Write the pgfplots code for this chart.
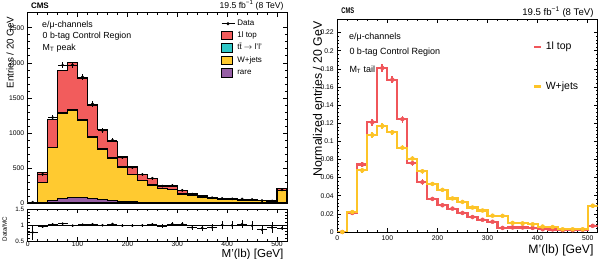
\documentclass[border=0pt]{standalone}
\usepackage{fontspec}
\setmainfont{Liberation Sans}
\usepackage{pgfplots}
\pgfplotsset{compat=1.18}
\usepackage{pgfplotstable}

\definecolor{topred}{RGB}{242,92,92}
\definecolor{wjyellow}{RGB}{255,202,48}
\definecolor{dilcyan}{RGB}{48,200,200}
\definecolor{rarepurple}{RGB}{150,95,165}
\definecolor{linered}{RGB}{240,86,90}
\definecolor{lineyellow}{RGB}{253,196,40}

% M'(lb) in the M_T peak region: stacked simulation and data (20 GeV bins, last bin holds overflow)
\pgfplotstableread{
lo   c    rare wjets dilep top  data derr ratio rerr
0    10   0.5  10.5  0.3   1.7  10   3    0.77  0.24
20   30   12   278   3     140  411  20   0.95  0.047
40   50   35   751   8     401  1219 35   1.02  0.029
60   70   60   1221  13    596  1966 44   1.04  0.023
80   90   75   1244  15    676  1970 44   0.98  0.022
100  110  72   1099  14    596  1799 42   1.01  0.024
120  130  60   878   11    436  1413 38   1.02  0.027
140  150  45   722   8     268  1033 32   0.99  0.031
160  170  32   606   6     227  897  30   1.03  0.034
180  190  22   486   5     149  649  25   0.98  0.038
200  210  16   391   4     104  505  22   0.98  0.044
220  230  12   307   3     90   408  20   0.99  0.049
240  250  9    248   3     86   353  19   1.02  0.054
260  270  7    202   2     37   241  16   0.97  0.063
280  290  6    189   2     46   250  16   1.03  0.065
300  310  5    124   2     45   181  13   1.03  0.076
320  330  4    105   1     28   127  11   0.92  0.082
340  350  3    78    1     18   91   10   0.91  0.095
360  370  3    59    1     18   75   9    0.92  0.107
380  390  2    46    1     15   64   8    1.00  0.125
400  410  2    43    1     14   59   8    0.99  0.128
420  430  2    38    1     14   57   8    1.03  0.137
440  450  2    33    1     14   49   7    0.98  0.140
460  470  1    29    1     9    34   6    0.85  0.146
480  490  1    21    1     9    29   5    0.92  0.168
500  510  5    171   2     31   188  14   0.90  0.066
520  530  5    171   2     31   188  14   0.90  0.066
}\peaktable

% M'(lb) in the M_T tail region: unit-normalised shapes
\pgfplotstableread{
lo   c    top     wjets   etop    ewj
0    10   0       0       0       0
20   30   0.021   0.022   0.002   0.002
40   50   0.0745  0.068   0.003   0.003
60   70   0.121   0.107   0.004   0.003
80   90   0.181   0.117   0.004   0.003
100  110  0.168   0.110   0.004   0.003
120  130  0.1245  0.093   0.004   0.003
140  150  0.076   0.081   0.003   0.003
160  170  0.055   0.067   0.003   0.003
180  190  0.0365  0.053   0.002   0.002
200  210  0.0295  0.0465  0.002   0.002
220  230  0.0258  0.037   0.002   0.002
240  250  0.021   0.0332  0.002   0.002
260  270  0.0165  0.027   0.0015  0.002
280  290  0.0135  0.0237  0.0015  0.002
300  310  0.0113  0.018   0.0015  0.0015
320  330  0.0045  0.0178  0.001   0.0015
340  350  0.005   0.010   0.001   0.001
360  370  0.005   0.0095  0.001   0.001
380  390  0.0045  0.0085  0.001   0.001
400  410  0.003   0.006   0.001   0.001
420  430  0.0028  0.0055  0.001   0.001
440  450  0.002   0.003   0.001   0.001
460  470  0.002   0.003   0.001   0.001
480  490  0.0025  0.003   0.001   0.001
500  510  0.0068  0.029   0.001   0.002
520  530  0.0068  0.029   0       0
}\tailtable

\pgfplotsset{
  rootframe/.style={
    scale only axis, anchor=south west,
    xmin=0, xmax=520,
    xtick={0,100,...,500}, minor x tick num=4, minor y tick num=4,
    tick align=inside, xtick pos=both, ytick pos=both,
    major tick length=4pt, minor tick length=2pt,
    axis line style={line width=0.6pt},
    every tick/.style={black, line width=0.5pt},
    tick label style={font=\fontsize{6.8}{7}\selectfont},
    /pgf/number format/assume math mode=true,
    /pgf/number format/1000 sep={},
  },
  boxlegend/.style={legend image code/.code={
      \draw[##1, draw=black, line width=0.5pt] (0pt,-4.3pt) rectangle (11pt,4.3pt);}},
  linelegend/.style={legend image code/.code={
      \draw[##1, line width=2.6pt] (0pt,0pt) -- (7pt,0pt);}},
}

\begin{document}
\begin{tikzpicture}
\useasboundingbox (0pt,0pt) rectangle (606pt,259pt);

% ---------- left: stacked M'(lb), M_T peak ----------
\begin{axis}[rootframe,
  at={(27.7pt,56pt)}, width=259.3pt, height=190.3pt,
  ymin=0, ymax=2714, ytick={0,500,...,2500}, xticklabels={},
  legend style={at={(0.734,0.972)}, anchor=north west, draw=none, fill=none,
    font=\fontsize{8}{8}\selectfont, row sep=3.4pt,
    nodes={inner sep=0pt, text height=5.5pt, text depth=1.5pt},
    /tikz/every odd column/.style={column sep=2.5pt}},
  legend cell align=left]
  \addplot[const plot mark left, fill=topred, draw=black, line width=1.1pt, forget plot]
    table[x=lo, y expr=\thisrow{rare}+\thisrow{wjets}+\thisrow{dilep}+\thisrow{top}] {\peaktable} \closedcycle;
  \addplot[const plot mark left, fill=dilcyan, draw=black, line width=1.1pt, forget plot]
    table[x=lo, y expr=\thisrow{rare}+\thisrow{wjets}+\thisrow{dilep}] {\peaktable} \closedcycle;
  \addplot[const plot mark left, fill=wjyellow, draw=black, line width=1.1pt, forget plot]
    table[x=lo, y expr=\thisrow{rare}+\thisrow{wjets}] {\peaktable} \closedcycle;
  \addplot[const plot mark left, fill=rarepurple, draw=black, line width=1.1pt, forget plot]
    table[x=lo, y=rare] {\peaktable} \closedcycle;
  \addplot[black, only marks, mark=*, mark size=1.2pt, forget plot,
    restrict x to domain=0:520,
    error bars/.cd, x dir=both, x fixed=10, y dir=both, y explicit,
    error mark=none, error bar style={line width=0.6pt}]
    table[x=c, y=data, y error=derr] {\peaktable};
  \addlegendimage{legend image code/.code={
      \draw[black, line width=0.6pt] (0pt,0pt) -- (13pt,0pt);
      \fill[black] (6.5pt,0pt) circle (1.3pt);}}
  \addlegendentry{Data}
  \addlegendimage{boxlegend, fill=topred}
  \addlegendentry{1l top}
  \addlegendimage{boxlegend, fill=dilcyan}
  \addlegendentry{t\={t} $\rightarrow$ l'l'}
  \addlegendimage{boxlegend, fill=wjyellow}
  \addlegendentry{W+jets}
  \addlegendimage{boxlegend, fill=rarepurple}
  \addlegendentry{rare}
\end{axis}

% ---------- left: data / simulation ratio ----------
\begin{axis}[rootframe,
  at={(27.7pt,18pt)}, width=259.3pt, height=32pt,
  ymin=0.5, ymax=1.5, ytick={0.5,1,1.5},
  xticklabel style={inner sep=0.8pt},
  yticklabel style={font=\fontsize{6.3}{7}\selectfont}]
  \addplot[black, line width=0.5pt] coordinates {(0,1) (520,1)};
  \addplot[black, only marks, mark=*, mark size=1.1pt,
    restrict x to domain=0:520,
    error bars/.cd, x dir=both, x fixed=10, y dir=both, y explicit,
    error mark=none, error bar style={line width=0.6pt}]
    table[x=c, y=ratio, y error=rerr] {\peaktable};
\end{axis}

% ---------- right: normalised shapes, M_T tail ----------
\begin{axis}[rootframe,
  at={(337.3pt,27pt)}, width=260.4pt, height=213pt,
  ymin=0, ymax=0.235, ytick={0,0.02,...,0.22},
  scaled y ticks=false,
  yticklabel style={/pgf/number format/fixed, /pgf/number format/precision=2},
  legend style={at={(0.740,0.901)}, anchor=north west, draw=none, fill=none,
    font=\fontsize{10.5}{10.5}\selectfont, row sep=29.5pt,
    nodes={inner sep=0pt, text height=7.6pt, text depth=2.2pt},
    /tikz/every odd column/.style={column sep=3pt}},
  legend cell align=left]
  \addplot[const plot mark left, linered, line width=2.1pt, forget plot]
    table[x=lo, y=top] {\tailtable};
  \addplot[linered, only marks, mark=none, forget plot, restrict x to domain=0:520,
    error bars/.cd, y dir=both, y explicit, error mark=none,
    error bar style={line width=1.8pt}]
    table[x=c, y=top, y error=etop] {\tailtable};
  \addplot[const plot mark left, lineyellow, line width=2.1pt, forget plot]
    table[x=lo, y=wjets] {\tailtable};
  \addplot[lineyellow, only marks, mark=none, forget plot, restrict x to domain=0:520,
    error bars/.cd, y dir=both, y explicit, error mark=none,
    error bar style={line width=1.8pt}]
    table[x=c, y=wjets, y error=ewj] {\tailtable};
  \addlegendimage{linelegend, linered}
  \addlegendentry{1l top}
  \addlegendimage{linelegend, lineyellow}
  \addlegendentry{W+jets}
\end{axis}

% ---------- titles, axis titles and region labels ----------
\node[anchor=west, font=\fontsize{8}{8}\selectfont\bfseries] at (27.5pt,253.7pt) {CMS};
\node[anchor=east, font=\fontsize{8.6}{9}\selectfont] at (287pt,253.7pt) {19.5 fb\textsuperscript{−1} (8 TeV)};
\node[anchor=west, font=\fontsize{8.2}{8}\selectfont\bfseries, xscale=0.7, transform shape] at (339pt,248pt) {CMS};
\node[anchor=east, font=\fontsize{9.6}{10}\selectfont] at (597pt,247pt) {19.5 fb\textsuperscript{−1} (8 TeV)};

\node[rotate=90, anchor=north east, font=\fontsize{9.8}{10}\selectfont] at (3pt,246pt) {Entries / 20 GeV};
\node[rotate=90, font=\fontsize{6.3}{7}\selectfont] at (4.5pt,30pt) {Data/MC};
\node[rotate=90, anchor=north east, font=\fontsize{12.3}{13}\selectfont] at (309.5pt,241pt) {Normalized entries / 20 GeV};
\node[anchor=base east, font=\fontsize{11.6}{12}\selectfont] at (287pt,1.6pt) {M'(lb) [GeV]};
\node[anchor=base east, font=\fontsize{12.2}{13}\selectfont] at (597pt,5pt) {M'(lb) [GeV]};

\begin{scope}[font=\fontsize{8.8}{9}\selectfont]
  \node[anchor=west, inner sep=0pt] at (42pt,234pt) {e/μ-channels};
  \node[anchor=west, inner sep=0pt] at (42.5pt,222.3pt) {0 b-tag Control Region};
  \node[anchor=west, inner sep=0pt] at (42.5pt,211pt) {M\textsubscript{T} peak};
\end{scope}
\begin{scope}[font=\fontsize{9}{9}\selectfont]
  \node[anchor=west, inner sep=0pt] at (349pt,222.3pt) {e/μ-channels};
  \node[anchor=west, inner sep=0pt] at (349.3pt,206.7pt) {0 b-tag Control Region};
  \node[anchor=west, inner sep=0pt] at (349.3pt,189.7pt) {M\textsubscript{T} tail};
\end{scope}
\end{tikzpicture}
\end{document}
